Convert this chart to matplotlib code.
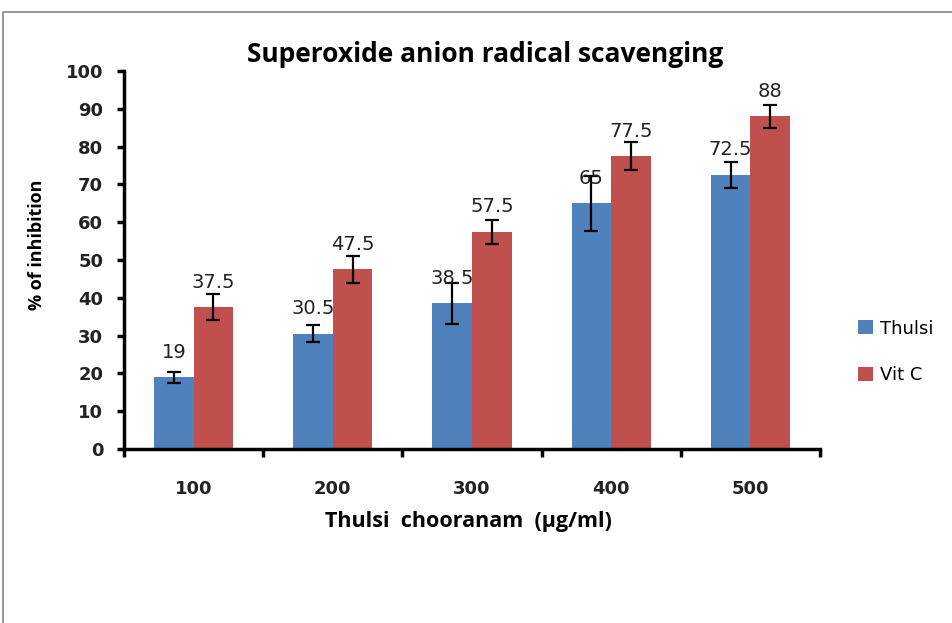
import numpy as np
import matplotlib
matplotlib.use("Agg")
import matplotlib.pyplot as plt
from matplotlib.patches import Rectangle

# --- Data ---
categories = ["100", "200", "300", "400", "500"]
thulsi = [19, 30.5, 38.5, 65, 72.5]
vitc = [37.5, 47.5, 57.5, 77.5, 88]
thulsi_err = [1.5, 2.2, 5.3, 7.2, 3.5]
vitc_err = [3.5, 3.5, 3.2, 3.7, 3.0]
series_names = ["Thulsi", "Vit C"]

BLUE = "#4F81BD"
RED = "#C0504D"
TITLE_FONT = ["Open Sans", "DejaVu Sans"]

fig = plt.figure(figsize=(9.52, 6.23), dpi=100)
W, H = 952, 623

# outer chart border (right and bottom edges fall outside the image)
fig.patches.append(Rectangle((3 / W, -0.1), 1.2, 1.1 - 12 / H, transform=fig.transFigure,
                             fill=False, edgecolor="#888888", linewidth=1.2))

ax = fig.add_axes([124 / W, 1 - 449 / H, (820 - 124) / W, (449 - 71) / H])

x = np.arange(len(categories))
width = 0.285
b1 = ax.bar(x - width / 2, thulsi, width, color=BLUE, label=series_names[0],
            yerr=thulsi_err, capsize=5, error_kw=dict(elinewidth=1.6, capthick=1.6, ecolor="black"))
b2 = ax.bar(x + width / 2, vitc, width, color=RED, label=series_names[1],
            yerr=vitc_err, capsize=5, error_kw=dict(elinewidth=1.6, capthick=1.6, ecolor="black"))

for bars, vals in [(b1, thulsi), (b2, vitc)]:
    for rect, v in zip(bars, vals):
        ax.annotate(f"{v:g}", (rect.get_x() + rect.get_width() / 2, v),
                    xytext=(0, 18), textcoords="offset points",
                    ha="center", va="center", fontsize=14, color="#222222")

ax.set_xlim(-0.5, len(categories) - 0.5)
ax.set_ylim(0, 100)
ax.set_yticks(range(0, 101, 10))
ax.set_xticks(x)
ax.set_xticklabels(categories)
ax.set_xticks(np.arange(-0.5, len(categories), 1), minor=True)
ax.tick_params(axis="x", which="major", length=0, pad=22)
ax.tick_params(axis="x", which="minor", length=6, width=2.5, direction="out")
ax.tick_params(axis="y", length=5, width=2.5, direction="out", pad=10)
for lbl in ax.get_xticklabels() + ax.get_yticklabels():
    lbl.set_fontweight("bold")
    lbl.set_fontsize(13)
    lbl.set_color("#222222")

for s in ["top", "right"]:
    ax.spines[s].set_visible(False)
for s in ["left", "bottom"]:
    ax.spines[s].set_linewidth(2.5)

fig.text(485 / W, 1 - 55 / H, "Superoxide anion radical scavenging", ha="center", va="center",
         fontsize=19, fontweight="bold", family=TITLE_FONT)
fig.text(468 / W, 1 - 522 / H, "Thulsi  chooranam  (\u00b5g/ml)", ha="center", va="center",
         fontsize=15.5, fontweight="bold", family=TITLE_FONT)
fig.text(37 / W, 1 - 245 / H, "% of inhibition", ha="center", va="center", rotation=90,
         fontsize=13, fontweight="bold", family=TITLE_FONT)

ax.legend(loc="center left", bbox_to_anchor=(842 / W, 1 - 352 / H), bbox_transform=fig.transFigure,
          frameon=False, fontsize=13, handlelength=0.8, handleheight=0.8, handletextpad=0.4,
          labelspacing=1.6)

fig.savefig("out.png", dpi=100)
